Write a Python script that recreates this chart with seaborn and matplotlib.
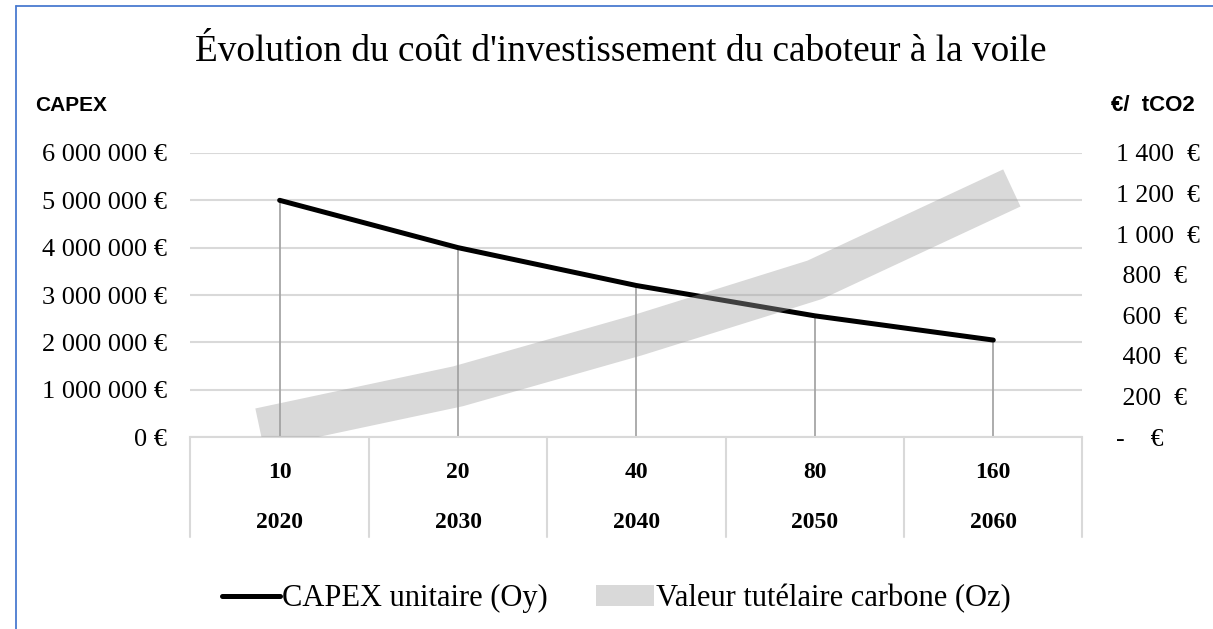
import matplotlib.pyplot as plt
import seaborn as sns
import pandas as pd
from matplotlib.lines import Line2D
from matplotlib.patches import Patch

# Données
annees = [2020, 2030, 2040, 2050, 2060]
navires = [10, 20, 40, 80, 160]
capex = [5000000, 4000000, 3200000, 2560000, 2048000]
carbone = [63, 250, 500, 775, 1185]

capex_ticks = [0, 1000000, 2000000, 3000000, 4000000, 5000000, 6000000]
capex_labels = ["0 €", "1 000 000 €", "2 000 000 €", "3 000 000 €",
                "4 000 000 €", "5 000 000 €", "6 000 000 €"]
carbone_ticks = [0, 200, 400, 600, 800, 1000, 1200, 1400]
carbone_labels = ["-    €", " 200  €", " 400  €", " 600  €", " 800  €",
                  "1 000  €", "1 200  €", "1 400  €"]

titre = "Évolution du coût d'investissement du caboteur à la voile"

sns.set_style("white")
plt.rcParams['font.family'] = ['Liberation Serif', 'DejaVu Serif']
plt.rcParams['text.color'] = 'black'
plt.rcParams['xtick.color'] = 'black'
plt.rcParams['ytick.color'] = 'black'

df = pd.DataFrame({"annee": annees, "navires": navires,
                   "capex": capex, "carbone": carbone})

gris_grille = "#d9d9d9"

fig = plt.figure(figsize=(12.13, 6.29), dpi=100)
ax = fig.add_axes([0.157, 0.3052, 0.7354, 0.4516])

# grille horizontale
ax.set_ylim(0, 6000000)
ax.set_yticks(capex_ticks, capex_labels)
ax.yaxis.grid(True, color=gris_grille, lw=1.5)
ax.set_axisbelow(True)

# lignes de projection
ax.vlines(df["annee"], 0, df["capex"], color="#a6a6a6", lw=1.3, zorder=2)

# CAPEX unitaire
sns.lineplot(data=df, x="annee", y="capex", color="black", lw=3.6, ax=ax, zorder=3)

ax.set_xlim(2015, 2065)
ax.set_xticks([])
ax.set_xlabel("")
ax.set_ylabel("")
ax.tick_params(axis="y", length=0, pad=17, labelsize=19)
for s in ["top", "right", "left"]:
    ax.spines[s].set_visible(False)
ax.spines["bottom"].set_color(gris_grille)
ax.spines["bottom"].set_linewidth(1.5)

# Valeur tutélaire carbone (axe secondaire)
ax2 = ax.twinx()
sns.lineplot(data=df, x="annee", y="carbone", ax=ax2, color="#a0a0a0", alpha=0.4,
             lw=29.5, solid_capstyle="projecting", solid_joinstyle="round")
ax2.set_ylim(0, 1400)
ax2.set_yticks(carbone_ticks, carbone_labels)
ax2.tick_params(axis="y", length=0, pad=24, labelsize=18.5)
ax2.set_ylabel("")
ax2.grid(False)
for s in ax2.spines.values():
    s.set_visible(False)

# tableau de l'axe des catégories
trans = ax.get_xaxis_transform()
for x in [2015, 2025, 2035, 2045, 2055, 2065]:
    ax.plot([x, x], [0, -0.352], transform=trans, color=gris_grille, lw=1.5, clip_on=False)
for a, n in zip(annees, navires):
    ax.text(a, -0.125, str(n), transform=trans, ha="center", va="center",
            fontsize=17, fontweight="bold")
    ax.text(a, -0.3, str(a), transform=trans, ha="center", va="center",
            fontsize=17, fontweight="bold")

# titres
fig.text(0.512, 0.918, titre, ha="center", va="center", fontsize=26.8)
fig.text(0.029, 0.8315, "CAPEX", ha="left", va="center", fontsize=15, fontweight="bold",
         family=["Liberation Sans Narrow", "Liberation Sans"])
fig.text(0.985, 0.8315, "€/  tCO2", ha="right", va="center", fontsize=16, fontweight="bold",
         family=["Liberation Sans Narrow", "Liberation Sans"])

# légende
poignees = [Line2D([0], [0], color="black", lw=3.6),
            Patch(facecolor=gris_grille, edgecolor="none")]
fig.legend(poignees, ["CAPEX unitaire (Oy)", "Valeur tutélaire carbone (Oz)"],
           loc="center", bbox_to_anchor=(0.508, 0.048), ncol=2, frameon=False,
           fontsize=22, handlelength=1.9, handletextpad=0.05, columnspacing=1.6)

# cadre
bleu = "#4a7bd0"
fig.add_artist(Line2D([0.0128, 0.0128], [0, 0.9897], color=bleu, lw=1.3))
fig.add_artist(Line2D([0.0128, 1], [0.9897, 0.9897], color=bleu, lw=1.3))

fig.savefig("out.png", dpi=100)
